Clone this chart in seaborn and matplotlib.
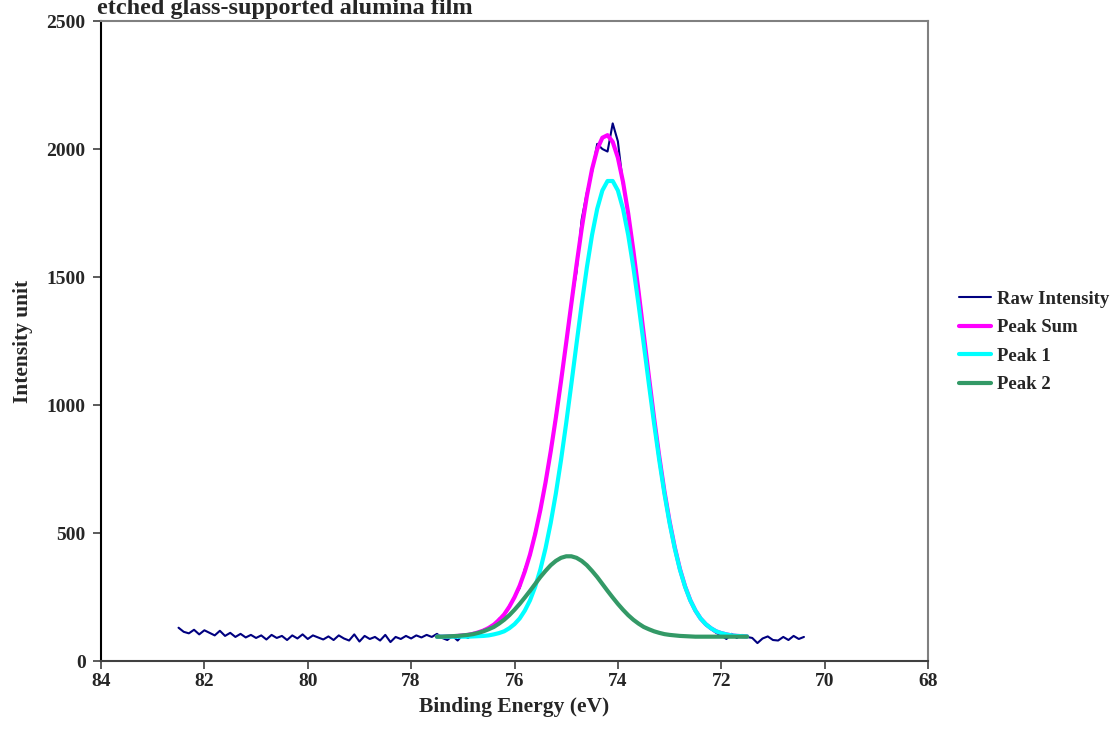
import numpy as np
import pandas as pd
import matplotlib
matplotlib.use("Agg")
import matplotlib.pyplot as plt
import seaborn as sns

# ---------------- data ----------------
raw_energy_start, raw_energy_stop, raw_n = 82.5, 70.4, 122
raw_intensity = [
    130, 114, 108, 122, 104, 120, 110, 100, 118, 98,    # 82.5 - 81.6
    110, 94, 106, 92, 102, 90, 100, 84, 102, 90,         # 81.5 - 80.6
    98, 82, 100, 88, 104, 86, 100, 92, 84, 96,           # 80.5 - 79.6
    82, 100, 88, 80, 104, 76, 98, 86, 94, 80,            # 79.5 - 78.6
    102, 74, 94, 86, 98, 88, 100, 92, 102, 94,           # 78.5 - 77.6
    106, 90, 82, 98, 80, 102, 90, 110, 102, 122,         # 77.5 - 76.6
    126, 140, 165, 178, 215, 250, 285, 360, 410, 505,    # 76.5 - 75.6
    585, 700, 815, 960, 1090, 1240, 1400, 1520, 1725, 1830,  # 75.5 - 74.6
    1910, 2020, 2000, 1990, 2100, 2030, 1860, 1750, 1590, 1450,  # 74.5 - 73.6
    1280, 1110, 945, 805, 660, 545, 440, 365, 285, 240,  # 73.5 - 72.6
    195, 165, 140, 125, 110, 100, 86, 106, 90, 102,      # 72.5 - 71.6
    94, 90, 70, 88, 96, 82, 80, 94, 82, 98,              # 71.5 - 70.6
    86, 94,                                              # 70.5 - 70.4
]

fit_energy_start, fit_energy_stop, fit_n = 77.5, 71.5, 61
peak_sum = [
    95, 95, 96, 97, 98, 100, 102, 106, 112, 119,
    129, 142, 160, 182, 212, 249, 294, 350, 416, 496,
    590, 697, 818, 950, 1093, 1243, 1396, 1547, 1689, 1816,
    1921, 1999, 2044, 2054, 2028, 1966, 1871, 1748, 1603, 1444,
    1277, 1111, 950, 800, 664, 546, 445, 360, 292, 238,
    197, 166, 144, 128, 116, 109, 104, 100, 98, 97,
    96,
]
peak1 = [
    95, 95, 95, 95, 95, 95, 95, 96, 97, 98,
    100, 104, 109, 116, 128, 144, 166, 197, 237, 290,
    357, 440, 539, 654, 785, 929, 1082, 1239, 1393, 1537,
    1664, 1766, 1838, 1875, 1875, 1838, 1766, 1664, 1537, 1393,
    1239, 1082, 929, 785, 654, 539, 440, 357, 290, 237,
    197, 166, 144, 128, 116, 109, 104, 100, 98, 97,
    96,
]
peak2 = [
    95, 95, 96, 97, 98, 100, 102, 105, 110, 116,
    124, 133, 146, 161, 179, 200, 223, 248, 274, 301,
    328, 352, 374, 391, 403, 409, 409, 403, 391, 374,
    352, 328, 301, 274, 248, 223, 200, 179, 161, 146,
    133, 124, 116, 110, 105, 102, 100, 98, 97, 96,
    95, 95, 95, 95, 95, 95, 95, 95, 95, 95,
    95,
]

series_names = ["Raw Intensity", "Peak Sum", "Peak 1", "Peak 2"]
series_colors = ["#000080", "#FF00FF", "#00FFFF", "#339966"]
series_widths = [1.5, 3.0, 3.0, 3.0]

x_ticks = [84, 82, 80, 78, 76, 74, 72, 70, 68]
y_ticks = [0, 500, 1000, 1500, 2000, 2500]
title_text = "etched glass-supported alumina film"
x_label = "Binding Energy (eV)"
y_label = "Intensity unit"

# ---------------- frames ----------------
raw_energy = np.round(np.linspace(raw_energy_start, raw_energy_stop, raw_n), 2)
fit_energy = np.round(np.linspace(fit_energy_start, fit_energy_stop, fit_n), 2)

frames = [
    pd.DataFrame({"E": raw_energy, "I": raw_intensity}),
    pd.DataFrame({"E": fit_energy, "I": peak_sum}),
    pd.DataFrame({"E": fit_energy, "I": peak1}),
    pd.DataFrame({"E": fit_energy, "I": peak2}),
]

# ---------------- style ----------------
sns.set_style("white")
plt.rcParams["font.family"] = ["Liberation Serif", "DejaVu Serif"]
plt.rcParams["font.weight"] = "bold"

fig = plt.figure(figsize=(11.19, 7.44), dpi=100)
ax = fig.add_axes([101 / 1119, 1 - 661 / 744, (928 - 101) / 1119, (661 - 21) / 744])

for df, name, col, lw in zip(frames, series_names, series_colors, series_widths):
    sns.lineplot(data=df, x="E", y="I", ax=ax, color=col, linewidth=lw,
                 label=name, estimator=None, sort=False, legend=False)

ax.set_xlim(84, 68)
ax.set_ylim(0, 2500)
ax.set_xticks(x_ticks)
ax.set_yticks(y_ticks)
ax.set_xticklabels([str(t) for t in x_ticks], fontsize=14, fontweight="bold")
ax.set_yticklabels([str(t) for t in y_ticks], fontsize=14, fontweight="bold")
ax.tick_params(axis="both", direction="out", length=6, width=1.2, color="#404040",
               bottom=True, left=True)
ax.tick_params(axis="x", pad=3)
ax.tick_params(axis="y", pad=5)

ax.set_xlabel(x_label, fontsize=15.5, fontweight="bold", labelpad=5)
ax.set_ylabel(y_label, fontsize=15.5, fontweight="bold", labelpad=10)

ax.spines["left"].set_color("#000000")
ax.spines["bottom"].set_color("#404040")
ax.spines["top"].set_color("#808080")
ax.spines["right"].set_color("#808080")
for s in ax.spines.values():
    s.set_linewidth(1.5)

fig.text(97 / 1119, 1 - 14 / 744, title_text, fontsize=17.5, fontweight="bold",
         ha="left", va="baseline")

handles = [plt.Line2D([], [], color=c, linewidth=w) for c, w in zip(series_colors, series_widths)]
leg = fig.legend(handles, series_names, loc="center left",
                 bbox_to_anchor=(951 / 1119, 1 - 342 / 744), frameon=False,
                 prop={"size": 13.5, "weight": "bold"}, handlelength=1.75,
                 handletextpad=0.3, labelspacing=0.6, borderaxespad=0.0)

fig.savefig("out.png", dpi=100)
